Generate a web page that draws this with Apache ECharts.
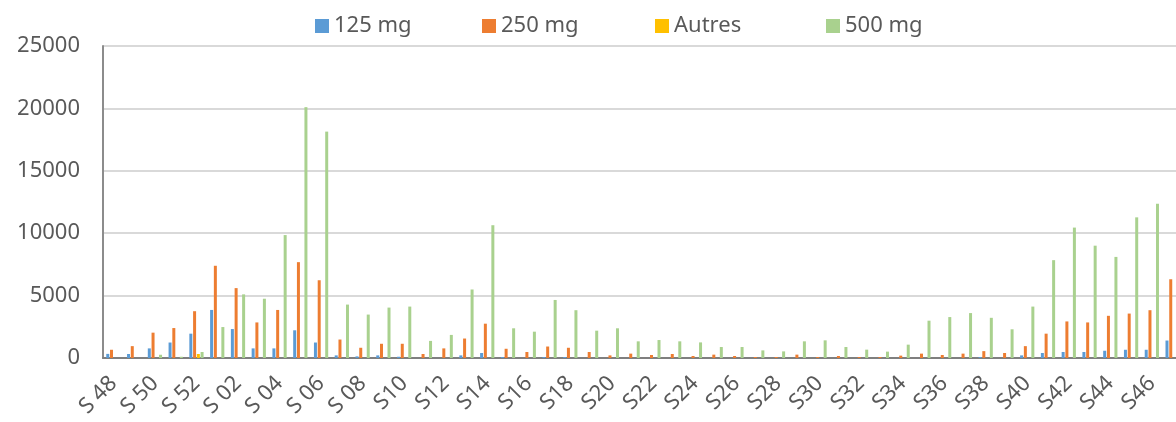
<!DOCTYPE html>
<html lang="fr">
<head>
    <meta charset="UTF-8">
    <title>Ventes par semaine</title>
    <style>
        html, body { margin: 0; padding: 0; background: #fff; }
        #main { width: 1176px; height: 422px; }
    </style>
</head>
<body>
    <div id="main"></div>
</body>
<script src="https://cdn.jsdelivr.net/npm/echarts@6/dist/echarts.min.js"></script>
<script>
    var weeks = ['S 48', 'S 49', 'S 50', 'S 51', 'S 52', 'S 01', 'S 02', 'S 03', 'S 04', 'S 05',
        'S 06', 'S 07', 'S 08', 'S 09', 'S10', 'S11', 'S12', 'S13', 'S14', 'S15',
        'S16', 'S17', 'S18', 'S19', 'S20', 'S21', 'S22', 'S23', 'S24', 'S25',
        'S26', 'S27', 'S28', 'S29', 'S30', 'S31', 'S32', 'S33', 'S34', 'S35',
        'S36', 'S37', 'S38', 'S39', 'S40', 'S41', 'S42', 'S43', 'S44', 'S45',
        'S46', 'S47'];

    var mg125 = [330, 320, 770, 1240, 1950, 3850, 2320, 770, 770, 2220,
        1240, 210, 130, 210, 100, 0, 0, 210, 400, 80,
        0, 80, 80, 0, 0, 0, 0, 0, 0, 0,
        0, 0, 0, 0, 0, 0, 0, 0, 0, 0,
        0, 0, 80, 0, 210, 400, 480, 480, 580, 660,
        660, 1400];

    var mg250 = [660, 950, 2030, 2400, 3750, 7390, 5600, 2850, 3850, 7680,
        6230, 1480, 820, 1140, 1140, 320, 770, 1560, 2750, 740,
        480, 920, 820, 480, 210, 350, 240, 320, 160, 270,
        160, 80, 80, 270, 80, 160, 80, 80, 190, 350,
        240, 350, 550, 400, 950, 1950, 2930, 2850, 3380, 3560,
        3830, 6310];

    var autres = [0, 0, 0, 0, 320, 0, 0, 0, 0, 0,
        0, 0, 0, 0, 0, 0, 0, 0, 0, 0,
        0, 0, 0, 0, 0, 0, 0, 0, 0, 0,
        0, 0, 0, 0, 0, 0, 0, 0, 0, 0,
        0, 0, 0, 0, 0, 0, 0, 0, 0, 0,
        0, 0];

    var mg500 = [0, 0, 260, 100, 480, 2480, 5100, 4750, 9850, 20100,
        18140, 4280, 3480, 4040, 4120, 1370, 1850, 5490, 10640, 2380,
        2110, 4650, 3830, 2190, 2380, 1335, 1440, 1335, 1250, 880,
        880, 610, 530, 1335, 1415, 880, 670, 510, 1070, 2990,
        3280, 3600, 3220, 2300, 4120, 7840, 10450, 9000, 8100, 11270,
        12360, 12500];

    var names = ['125 mg', '250 mg', 'Autres', '500 mg'];
    var colors = ['#5B9BD5', '#ED7D31', '#FFC000', '#A9D18E'];
    var legendLeft = [310, 477, 650, 821];
    var values = [mg125, mg250, autres, mg500];

    var font = '"Noto Sans", sans-serif';
    var myChart = echarts.init(document.getElementById('main'));

    var option = {
        backgroundColor: '#fff',
        animation: false,
        color: colors,
        legend: names.map(function (n, i) {
            return {
                data: [n],
                left: legendLeft[i],
                top: 10,
                itemWidth: 14,
                itemHeight: 14,
                icon: 'rect',
                textStyle: { fontSize: 22, color: '#595959', fontFamily: font }
            };
        }),
        grid: {
            left: 103,
            top: 46,
            width: 1080,
            bottom: 64,
            outerBoundsMode: 'none',
            containLabel: false
        },
        xAxis: {
            type: 'category',
            data: weeks,
            axisTick: { show: false },
            axisLine: { lineStyle: { color: '#7f7f7f', width: 2 } },
            axisLabel: {
                interval: 1,
                rotate: 45,
                margin: 22,
                fontSize: 22,
                color: '#595959',
                fontFamily: font
            }
        },
        yAxis: {
            type: 'value',
            min: 0,
            max: 25000,
            interval: 5000,
            axisLine: { show: true, lineStyle: { color: '#8c8c8c', width: 2 } },
            axisTick: { show: false },
            splitLine: { lineStyle: { color: '#d9d9d9', width: 2 } },
            axisLabel: {
                margin: 23,
                fontSize: 22,
                color: '#595959',
                fontFamily: font,
                formatter: function (v) { return String(v); }
            }
        },
        series: names.map(function (n, i) {
            return {
                name: n,
                type: 'bar',
                data: values[i],
                barWidth: 3,
                barGap: '25%',
                itemStyle: { color: colors[i] }
            };
        })
    };

    myChart.setOption(option);
</script>
</html>
